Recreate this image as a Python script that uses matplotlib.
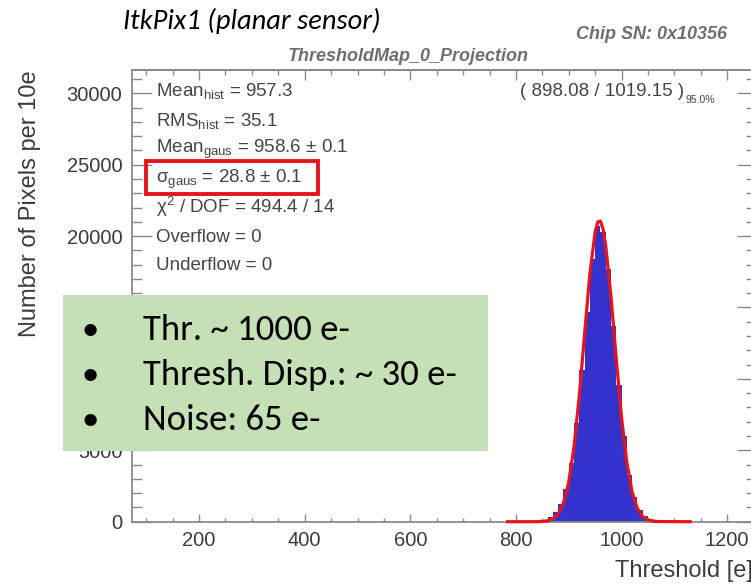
import matplotlib
matplotlib.use('Agg')
import matplotlib.pyplot as plt
from matplotlib.ticker import MultipleLocator
from matplotlib.patches import Rectangle

# ============================================================
# DATA
# ============================================================
# threshold histogram, 10e bins (left edges) and pixel counts
bin_left = [840, 850, 860, 870, 880, 890, 900, 910, 920, 930, 940, 950,
            960, 970, 980, 990, 1000, 1010, 1020, 1030, 1040, 1050, 1060]
bin_counts = [60, 150, 330, 680, 1250, 2300, 4100, 6900, 10600, 14700, 18400,
              20700, 20300, 17700, 13700, 9600, 6000, 3300, 1700, 820, 380,
              160, 70]
bin_width = 10

# gaussian fit curve as drawn
fit_x = [784, 840, 850, 860, 870, 880, 890, 900, 910, 920, 930, 940, 950, 955,
         960, 965, 970, 980, 990, 1000, 1010, 1020, 1030, 1040, 1050, 1060,
         1070, 1130]
fit_y = [0, 2, 19, 64, 198, 540, 1300, 2780, 5260, 8840, 13150, 17360, 20300,
         20990, 21050, 20490, 19340, 15760, 11380, 7290, 4140, 2080, 930, 370,
         130, 40, 12, 0]

x_ticks = [200, 400, 600, 800, 1000, 1200]
y_ticks = [0, 5000, 10000, 15000, 20000, 25000, 30000]

stats_lines = [
    r'Mean$_{\rm hist}$ = 957.3',
    r'RMS$_{\rm hist}$ = 35.1',
    r'Mean$_{\rm gaus}$ = 958.6 $\pm$ 0.1',
    '\u03c3' + r'$_{\rm gaus}$ = 28.8 $\pm$ 0.1',
    '\u03c7' + r'$^{2}$ / DOF = 494.4 / 14',
    'Overflow = 0',
    'Underflow = 0',
]
interval_text = '( 898.08 / 1019.15 )'
interval_level = '95.0%'

bullets = ['Thr. ~ 1000 e-', 'Thresh. Disp.: ~ 30 e-', 'Noise: 65 e-']

# ============================================================
# STYLE
# ============================================================
W, H = 751, 586
ROOT_FONT = 'Liberation Sans'
SLIDE_FONT = ['Carlito', 'Lato', 'DejaVu Sans']
COL_FRAME = '#8a8a8a'
COL_LABEL = '#3c3c3c'
COL_STATS = '#454545'
COL_TITLE = '#6e6e6e'
COL_HIST = '#3333cc'
COL_FIT = '#e8141c'
COL_GREEN = '#c5e0b4'

plt.rcParams['font.family'] = ROOT_FONT
plt.rcParams['mathtext.fontset'] = 'custom'
plt.rcParams['mathtext.rm'] = ROOT_FONT
plt.rcParams['mathtext.it'] = ROOT_FONT + ':italic'
plt.rcParams['mathtext.bf'] = ROOT_FONT + ':bold'


def fx(x):
    return x / W


def fy(y):
    return 1 - y / H


fig = plt.figure(figsize=(W / 100, H / 100), dpi=100)
ax = fig.add_axes([fx(132), fy(521.7), fx(752) - fx(132), fy(70) - fy(521.7)])

# histogram + fit
edges = bin_left + [bin_left[-1] + bin_width]
ax.stairs(bin_counts, edges, fill=True, color=COL_HIST, zorder=2)
ax.plot(fit_x, fit_y, color=COL_FIT, linewidth=2.3, zorder=3, clip_on=False,
        solid_joinstyle='round')

ax.set_xlim(73, 1247)
ax.set_ylim(0, 31630)

# ticks - ROOT style, inside, on all four sides
ax.set_xticks(x_ticks)
ax.set_yticks(y_ticks)
ax.xaxis.set_minor_locator(MultipleLocator(50))
ax.yaxis.set_minor_locator(MultipleLocator(1000))
ax.tick_params(axis='y', which='major', direction='in', length=14.5, width=1,
               color=COL_FRAME, labelsize=14.5, labelcolor=COL_LABEL, pad=7)
ax.tick_params(axis='y', which='minor', direction='in', length=7, width=1,
               color=COL_FRAME)
ax.tick_params(axis='x', which='major', direction='in', length=6, width=1,
               color=COL_FRAME, labelsize=14.5, labelcolor=COL_LABEL, pad=6.5)
ax.tick_params(axis='x', which='minor', direction='in', length=3, width=1,
               color=COL_FRAME)

sec_y = ax.secondary_yaxis('right')
sec_y.set_yticks(y_ticks)
sec_y.yaxis.set_minor_locator(MultipleLocator(1000))
sec_y.tick_params(which='major', direction='in', length=11, width=1,
                  color=COL_FRAME, labelright=False)
sec_y.tick_params(which='minor', direction='in', length=4.5, width=1,
                  color=COL_FRAME)

sec_x = ax.secondary_xaxis('top')
sec_x.set_xticks(x_ticks)
sec_x.xaxis.set_minor_locator(MultipleLocator(50))
sec_x.tick_params(which='major', direction='in', length=7, width=1,
                  color=COL_FRAME, labeltop=False)
sec_x.tick_params(which='minor', direction='in', length=3.5, width=1,
                  color=COL_FRAME)

for sp in list(ax.spines.values()) + list(sec_x.spines.values()) + list(sec_y.spines.values()):
    sp.set_color(COL_FRAME)
    sp.set_linewidth(1.3)

# axis titles (ROOT puts them at the axis ends)
fig.text(fx(30), fy(70), 'Number of Pixels per 10e', rotation=90,
         ha='center', va='top', fontsize=17, color=COL_LABEL)
fig.text(fx(753), fy(577), 'Threshold [e]', ha='right', va='baseline',
         fontsize=17, color=COL_LABEL)

# ROOT canvas titles
fig.text(fx(408.5), fy(61), 'ThresholdMap_0_Projection', ha='center',
         va='baseline', fontsize=13, fontweight='bold', fontstyle='italic',
         color=COL_TITLE)
fig.text(fx(576), fy(39), 'Chip SN: 0x10356', ha='left', va='baseline',
         fontsize=13, fontweight='bold', fontstyle='italic', color=COL_TITLE)

# stats block
stats_baselines = [96, 126, 153, 183, 213, 242, 270]
for line, yb in zip(stats_lines, stats_baselines):
    fig.text(fx(156), fy(yb), line, ha='left', va='baseline', fontsize=13.5,
             color=COL_STATS)
fig.text(fx(520), fy(96), interval_text, ha='left', va='baseline',
         fontsize=13.5, color=COL_STATS)
fig.text(fx(686), fy(103), interval_level, ha='left', va='baseline',
         fontsize=7.5, color=COL_STATS)

# red highlight on sigma
fig.patches.append(Rectangle((fx(146), fy(194)), fx(318) - fx(146),
                             fy(161) - fy(194), transform=fig.transFigure,
                             fill=False, edgecolor=COL_FIT, linewidth=2.8,
                             zorder=5))

# slide overlays
fig.text(fx(123), fy(29), 'ItkPix1 (planar sensor)', ha='left',
         va='baseline', fontsize=20.5, fontstyle='italic', family=SLIDE_FONT,
         color='black')

fig.patches.append(Rectangle((fx(63), fy(451)), fx(488) - fx(63),
                             fy(295) - fy(451), transform=fig.transFigure,
                             facecolor=COL_GREEN, edgecolor='none', zorder=4))

bullet_baselines = [340, 385, 430]
for text, yb in zip(bullets, bullet_baselines):
    fig.text(fx(82), fy(yb), '\u2022', ha='left', va='baseline', fontsize=25,
             family=SLIDE_FONT, color='black', zorder=6)
    fig.text(fx(143), fy(yb), text, ha='left', va='baseline', fontsize=26.5,
             family=SLIDE_FONT, color='black', zorder=6)

fig.savefig('out.png', dpi=100)
plt.close(fig)
